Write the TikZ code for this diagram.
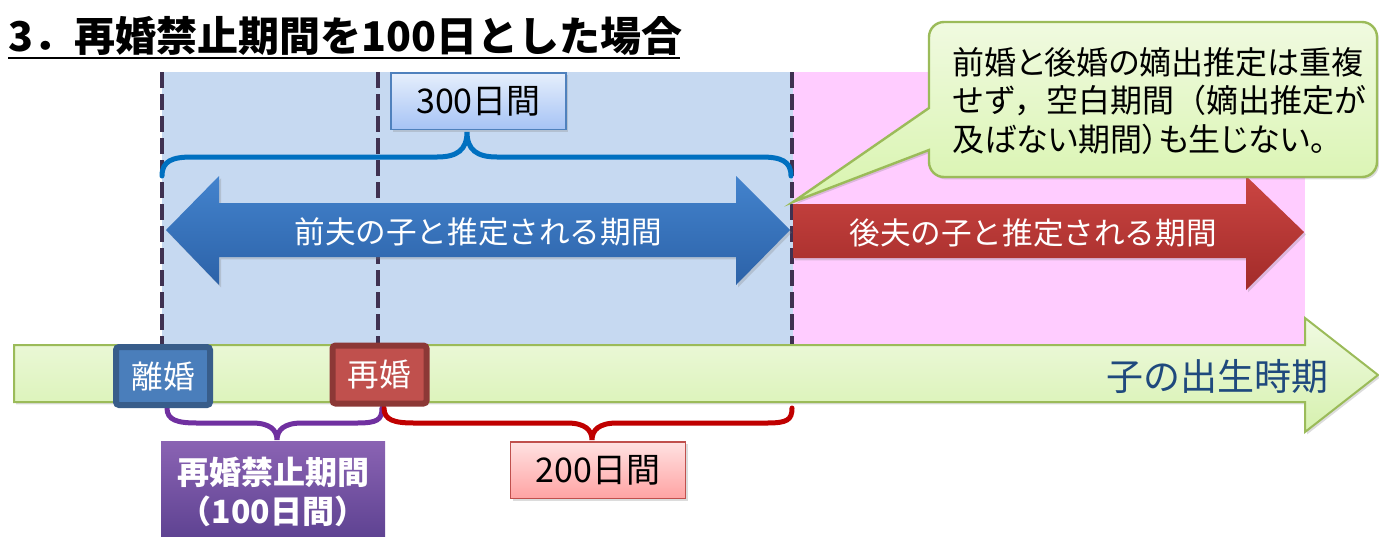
\documentclass[tikz,border=0pt]{standalone}
\usepackage{fontspec}
\setmainfont{Noto Sans CJK JP}
\newfontfamily\jpp{Noto Sans CJK JP}[RawFeature=+palt]
\usetikzlibrary{shadows}
\definecolor{bluereg}{HTML}{C6D9F1}
\definecolor{pinkreg}{HTML}{FFCCFF}
\definecolor{divc}{HTML}{3F3151}
\definecolor{tlborder}{HTML}{9BBB59}
\definecolor{tltop}{HTML}{F0FAE2}
\definecolor{tlbot}{HTML}{D6F1AE}
\definecolor{barrtop}{HTML}{4383CD}
\definecolor{barrbot}{HTML}{2C62A8}
\definecolor{rarrtop}{HTML}{CB4542}
\definecolor{rarrbot}{HTML}{A22B29}
\definecolor{cotop}{HTML}{F0FAE0}
\definecolor{cobot}{HTML}{D8F4AE}
\definecolor{bbtop}{HTML}{E6EFFC}
\definecolor{bbbot}{HTML}{A6C3F5}
\definecolor{bbborder}{HTML}{4F81BD}
\definecolor{rbtop}{HTML}{FFE2E2}
\definecolor{rbbot}{HTML}{FFA3A3}
\definecolor{rbborder}{HTML}{C0504D}
\definecolor{pbtop}{HTML}{8A63B3}
\definecolor{pbbot}{HTML}{5C4190}
\definecolor{divfill}{HTML}{4A7EBB}
\definecolor{divborder}{HTML}{385D8A}
\definecolor{remfill}{HTML}{C0504D}
\definecolor{remborder}{HTML}{8C3836}
\definecolor{bracebl}{HTML}{0070C0}
\definecolor{bracepu}{HTML}{7030A0}
\definecolor{bracered}{HTML}{C00000}
\definecolor{tltext}{HTML}{1F497D}
\begin{document}
\begin{tikzpicture}[x=0.5pt,y=-0.5pt,
  divider/.style={draw=divc, line width=2.4pt, dash pattern=on 8pt off 3pt},
  brc/.style={line width=2.5pt, line cap=round},
  sh/.style={drop shadow={shadow xshift=1pt,shadow yshift=-1.2pt,opacity=0.28}},
  arrtext/.style={text=white, font=\fontsize{15.3}{18}\selectfont, inner sep=0pt},
  eventbox/.style={text=white, font=\fontsize{15.8}{18}\selectfont, line width=3pt,
    rounded corners=1.5pt, minimum width=47pt, minimum height=29pt, inner sep=0pt},
  daybox/.style={font=\fontsize{17}{20}\selectfont, line width=0.8pt,
    minimum width=87.5pt, minimum height=28.3pt, inner sep=0pt, sh},
]
\useasboundingbox (0,0) rectangle (1379,536);

% title
\node[anchor=base west, inner sep=0pt, font=\bfseries\fontsize{20.5}{24}\selectfont] (title) at (8,51) {3．再婚禁止期間を100日とした場合};
\draw[line width=1.3pt] (8,58) coordinate (ula) -- (680,58) coordinate (ulb);

% regions
\fill[bluereg] (162,72) rectangle (793,345);
\fill[pinkreg] (793,72) rectangle (1305,345);

% dividers
\coordinate (d1t) at (162,72); \coordinate (d1b) at (162,345);
\coordinate (d2t) at (378,72); \coordinate (d2b) at (378,345);
\coordinate (d3t) at (792,72); \coordinate (d3b) at (792,345);
\draw[divider] (d1t) -- (d1b);
\draw[divider] (d2t) -- (d2b);
\draw[divider] (d3t) -- (d3b);

% timeline arrow
\path[sh, draw=tlborder, line width=1pt, top color=tltop, bottom color=tlbot]
  (14,345) -- (1305,345) -- (1305,318) -- (1378,375) -- (1305,432) -- (1305,402) -- (14,402) -- cycle;
\node[text=tltext, font=\fontsize{18.5}{22}\selectfont, inner sep=0pt] (tl) at (1217,376) {子の出生時期};

% blue double arrow
\path[sh, top color=barrtop, bottom color=barrbot]
  (166,230) -- (219,176) -- (219,203) -- (736,203) -- (736,176) -- (790,230)
  -- (736,285) -- (736,257) -- (219,257) -- (219,285) -- cycle;
\node[arrtext] (prev) at (478,232) {前夫の子と推定される期間};

% red arrow
\path[sh, top color=rarrtop, bottom color=rarrbot]
  (793,204) -- (1246,204) -- (1246,176) -- (1304,232) -- (1246,290) -- (1246,258) -- (793,258) -- cycle;
\node[arrtext] (next) at (1033,233) {後夫の子と推定される期間};

% blue brace
\coordinate (bl) at (162,176); \coordinate (br) at (791,176); \coordinate (bt) at (467,132);
\draw[brc, bracebl] (bl) .. controls (162,161) and (172,157) .. (192,157) -- (437,157)
  .. controls (457,157) and (467,150) .. (bt)
  .. controls (467,150) and (477,157) .. (497,157) -- (761,157)
  .. controls (781,157) and (791,161) .. (br);

% 300 box
\node[daybox, draw=bbborder, top color=bbtop, bottom color=bbbot] (d300) at (478.5,101) {300日間};

% purple brace
\coordinate (pl) at (167,408); \coordinate (pr) at (382,408); \coordinate (ptip) at (277,440);
\draw[brc, bracepu] (pl) .. controls (167,420) and (177,423) .. (197,423) -- (252,423)
  .. controls (270,423) and (277,430) .. (ptip)
  .. controls (277,430) and (284,423) .. (302,423) -- (357,423)
  .. controls (377,423) and (382,420) .. (pr);

% red brace
\coordinate (rl) at (384,408); \coordinate (rr) at (792,408); \coordinate (rtip) at (592,440);
\draw[brc, bracered] (rl) .. controls (384,420) and (394,423) .. (414,423) -- (567,423)
  .. controls (585,423) and (592,430) .. (rtip)
  .. controls (592,430) and (599,423) .. (617,423) -- (767,423)
  .. controls (787,423) and (792,420) .. (rr);

% event boxes
\node[eventbox, sh, fill=divfill, draw=divborder] (divorce) at (163,376) {離婚};
\node[eventbox, sh, fill=remfill, draw=remborder] (remarry) at (379.5,374.5) {再婚};

% 200 box
\node[daybox, draw=rbborder, top color=rbtop, bottom color=rbbot] (d200) at (598,470) {200日間};

% prohibition box
\node[anchor=north, top color=pbtop, bottom color=pbbot, text=white, align=center,
  minimum width=112pt, minimum height=51pt, inner sep=0pt,
  font=\bfseries\fontsize{16}{19.5}\selectfont] (ban) at (273,441) {再婚禁止期間\\（100日間）};

% callout
\path[sh, draw=tlborder, line width=1.2pt, top color=cotop, bottom color=cobot]
  (793,202) -- (929,150) -- (929,162) .. controls (929,170.3) and (935.7,177) .. (944,177)
  -- (1362,177) .. controls (1370.3,177) and (1377,170.3) .. (1377,162)
  -- (1377,37) .. controls (1377,28.7) and (1370.3,22) .. (1362,22)
  -- (944,22) .. controls (935.7,22) and (929,28.7) .. (929,37)
  -- (929,108) -- cycle;
\node[anchor=west, align=left, inner sep=0pt, font=\fontsize{16}{19.3}\selectfont] (note) at (952,101)
  {{\jpp 前婚と後婚の嫡出推定は重複}\\せず，空白期間（嫡出推定が\\{\jpp 及ばない期間）も生じない。}};
\end{tikzpicture}
\end{document}
